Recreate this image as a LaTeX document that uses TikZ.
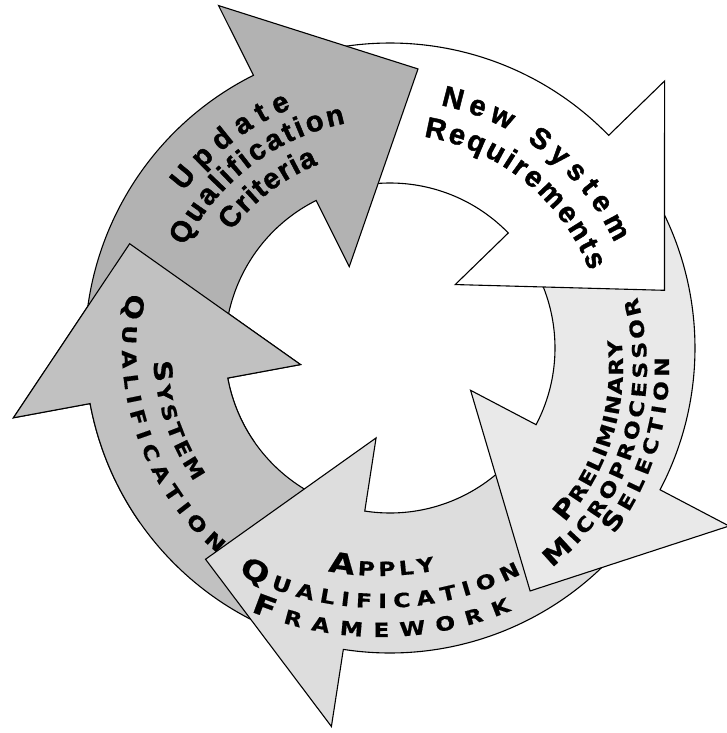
\documentclass[tikz,border=0pt]{standalone}
\usepackage{fontspec}
\newfontfamily\arialfont{Liberation Sans Bold}[FakeBold=1.6]
\newfontfamily\cpfont{DejaVu Sans Bold}[FakeStretch=1.2, FakeBold=0.6]
\usetikzlibrary{decorations.text,calc}
\definecolor{cUpd}{gray}{0.70}
\definecolor{cNew}{gray}{1.0}
\definecolor{cPre}{gray}{0.915}
\definecolor{cApp}{gray}{0.865}
\definecolor{cSQ}{gray}{0.755}
\newcommand\hdA{\arialfont\fontsize{29}{29}\selectfont}
\newcommand\cpBig{\cpfont\fontsize{25}{25}\selectfont}
\newcommand\cpSmall{\cpfont\fontsize{19.5}{19.5}\selectfont}
\newcommand\cpBigA{\cpfont\fontsize{28}{28}\selectfont}
% #1 tail angle, #2 head base angle, #3 fill colour
\newcommand\cyclearrow[3]{%
  \draw[arrowshape, fill=#3] (#1:305) arc[start angle=#1, end angle=#2, radius=305]
    -- (#2:383) -- ($(#2:237)+(#2-90:150)$) -- (#2:91) -- (#2:165)
    arc[start angle=#2, end angle=#1, radius=165] -- cycle;}
% #1 centre, #2 radius, #3 start, #4 end, #5 text
\newcommand\arctext[5]{%
  \path[decorate, decoration={text along path, text align=fit to path, text={#5}}]
    ($#1+(#3:#2)$) arc[start angle=#3, end angle=#4, radius=#2];}
\begin{document}
\begin{tikzpicture}[x=1pt,y=1pt,
  arrowshape/.style={draw=black, line width=1.1pt, line join=miter}]
\useasboundingbox (-390,-385) rectangle (337,348);
% arrows: each head lies over the tail of the next one
\cyclearrow{-98.8}{-169.5}{cSQ}
\cyclearrow{-27.7}{-98.8}{cApp}
\cyclearrow{44.2}{-27.7}{cPre}
\cyclearrow{116.6}{44.2}{cNew}
\cyclearrow{190.5}{116.6}{cUpd}
\begin{scope}
  \clip (0,0) -- (140:460) arc[start angle=140, end angle=215, radius=460] -- cycle;
  \cyclearrow{-98.8}{-169.5}{cSQ}
\end{scope}
% Update Qualification Criteria
\arctext{(0,0)}{259}{142.8}{112.4}{|\hdA|Update}
\arctext{(0,0)}{229}{153.6}{101.2}{|\hdA|Qualification}
\arctext{(0,0)}{197}{143.6}{111.4}{|\hdA|Criteria}
% New System Requirements
\arctext{(0,0)}{248}{78.2}{25.1}{|\hdA|New System}
\arctext{(0,0)}{214}{80.9}{21.1}{|\hdA|Requirements}
% Preliminary Microprocessor Selection
\arctext{(0,-20)}{233}{-41.5}{7}{|\cpBig|P|\cpSmall|RELIMINARY}
\arctext{(0,-20)}{257}{-51}{16}{|\cpBig|M|\cpSmall|ICROPROCESSOR}
\arctext{(0,-20)}{279}{-36.6}{2.2}{|\cpBig|S|\cpSmall|ELECTION}
% Apply Qualification Framework
\arctext{(-10,50)}{278}{-100.8}{-78.6}{|\cpBigA|A|\cpSmall|PPLY}
\arctext{(-10,50)}{310}{-117.2}{-62.9}{|\cpBigA|Q|\cpSmall|UALIFICATION}
\arctext{(-10,50)}{339}{-112.4}{-67.2}{|\cpBigA|F|\cpSmall|RAMEWORK}
% System Qualification
\arctext{(0,0)}{237}{183.2}{214.3}{|\cpBig|S|\cpSmall|YSTEM}
\arctext{(0,0)}{268}{168.2}{230}{|\cpBig|Q|\cpSmall|UALIFICATION}
\end{tikzpicture}
\end{document}
